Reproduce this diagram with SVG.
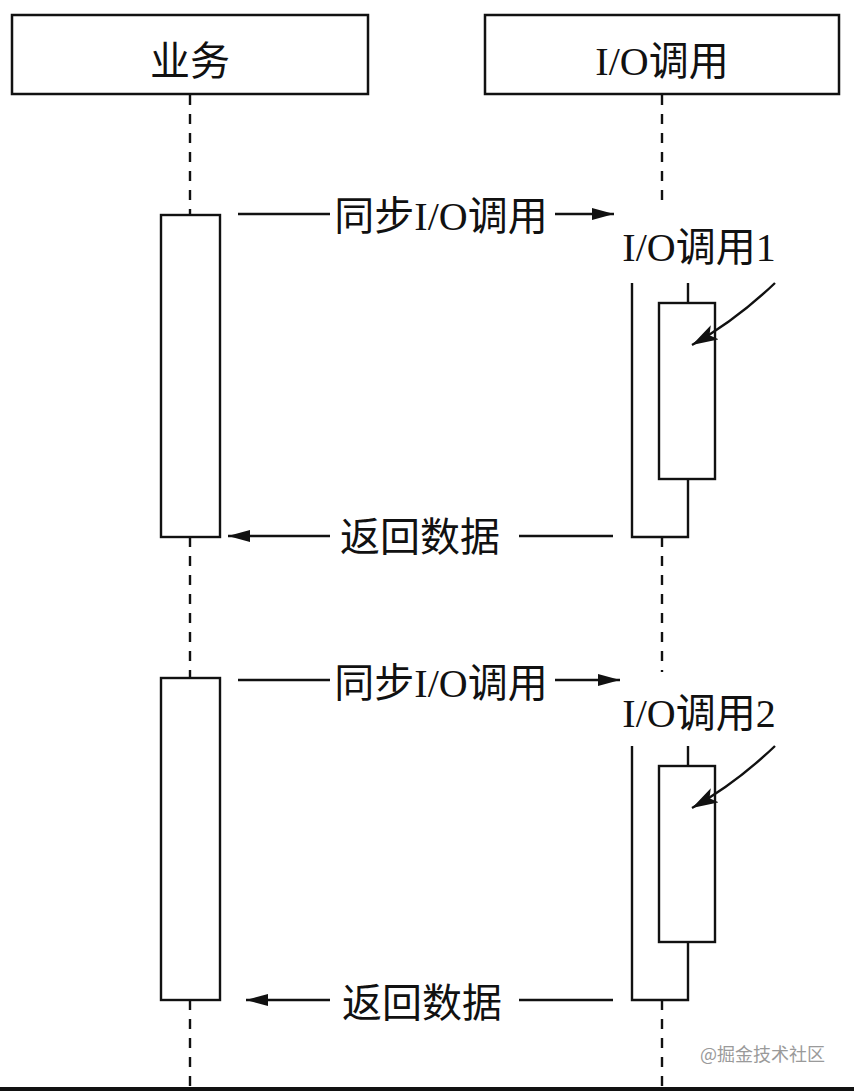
<svg xmlns="http://www.w3.org/2000/svg" width="854" height="1091" viewBox="0 0 854 1091">
<defs>
<style>
.box{fill:#fff;stroke:#111;stroke-width:2.5}
.act{fill:#fff;stroke:#111;stroke-width:2.4}
.ln{fill:none;stroke:#111;stroke-width:2.4}
.life{fill:none;stroke:#111;stroke-width:2.4;stroke-dasharray:10 9}
.t{font-family:"Liberation Serif","Noto Sans CJK SC",serif;font-size:40px;fill:#111;text-anchor:middle}
.wm{font-family:"Noto Sans CJK SC","Noto Sans",sans-serif;font-size:18px;fill:#9a9a9a}
</style>
<marker id="ah" viewBox="0 0 22 12" refX="22" refY="6" markerWidth="22" markerHeight="12" markerUnits="userSpaceOnUse" orient="auto">
<path d="M0,0 L22,6 L0,12 Z" fill="#111"/>
</marker>
<marker id="ah2" viewBox="0 0 26 16" refX="26" refY="8" markerWidth="26" markerHeight="16" markerUnits="userSpaceOnUse" orient="auto">
<path d="M0,0 L26,8 L0,16 L6,8 Z" fill="#111"/>
</marker>
</defs>
<rect width="854" height="1091" fill="#fff"/>

<g id="lifelines">
<path class="life" d="M190,95 V215 M190,537 V678 M190,1000 V1087"/>
<path class="life" d="M662,95 V208 M662,537 V672 M662,1000 V1087"/>
</g>

<g id="node-business">
<rect class="box" x="12" y="15" width="356" height="79"/>
<text class="t" x="190" y="75">业务</text>
</g>
<g id="node-io">
<rect class="box" x="485" y="15" width="354" height="79"/>
<text class="t" x="662" y="75">I/O调用</text>
</g>

<g id="act-business-1"><rect class="act" x="161" y="215" width="59" height="322"/></g>
<g id="act-business-2"><rect class="act" x="161" y="678" width="59" height="322"/></g>

<g id="io-call-1">
<path class="ln" d="M632,283 V537 H688 V479 M688,283 V303"/>
<rect class="act" x="659" y="303" width="56" height="176"/>
<text class="t" x="699" y="261">I/O调用1</text>
</g>
<g id="io-call-2">
<path class="ln" d="M632,746 V1000 H688 V942 M688,746 V766"/>
<rect class="act" x="659" y="766" width="56" height="176"/>
<text class="t" x="699" y="727">I/O调用2</text>
</g>

<g id="connectors">
<path class="ln" d="M238,214 H330"/>
<path class="ln" d="M555,214 H614" marker-end="url(#ah)"/>
<path class="ln" d="M330,536 H228" marker-end="url(#ah)"/>
<path class="ln" d="M519,536 H613"/>
<path class="ln" d="M238,680 H330"/>
<path class="ln" d="M555,680 H620" marker-end="url(#ah)"/>
<path class="ln" d="M330,1000 H246" marker-end="url(#ah)"/>
<path class="ln" d="M519,1000 H613"/>
<path class="ln" d="M775,283 C752,305 726,326 692,345" marker-end="url(#ah2)"/>
<path class="ln" d="M775,746 C752,768 726,789 692,808" marker-end="url(#ah2)"/>
</g>

<g id="labels">
<text class="t" x="441" y="230">同步I/O调用</text>
<text class="t" x="420" y="551">返回数据</text>
<text class="t" x="441" y="697">同步I/O调用</text>
<text class="t" x="422" y="1017">返回数据</text>
</g>

<text class="wm" x="700" y="1061">@掘金技术社区</text>
<rect x="0" y="1087" width="854" height="4" fill="#111"/>
</svg>
